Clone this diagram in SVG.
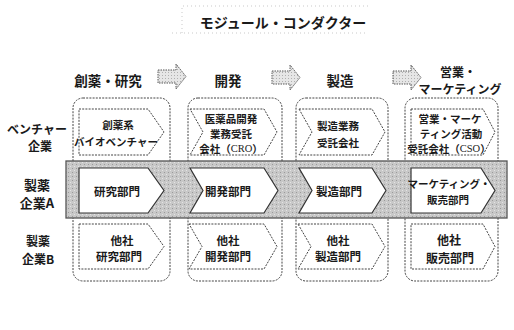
<svg xmlns="http://www.w3.org/2000/svg" width="514" height="330" viewBox="0 0 514 330">
<style>
text{font-family:"Noto Sans CJK JP","Noto Sans CJK SC",sans-serif;font-weight:bold;fill:#1a1a1a;text-anchor:middle;dominant-baseline:central}
.title{font-size:14px;font-weight:bold}
.hdr{font-size:13.5px}
.rl{font-size:13px}
.bx{font-size:10.5px}
.col{fill:#fff;stroke:#444;stroke-width:1;stroke-dasharray:2 1.2}
.chd{fill:#fff;stroke:#444;stroke-width:1;stroke-dasharray:2 1.2}
.chs{fill:#fff;stroke:#333;stroke-width:1.2}
.arr{fill:url(#dots);stroke:#555;stroke-width:1;stroke-dasharray:1.5 1}
.ser{font-family:"Liberation Serif",serif;font-weight:normal}
</style>
<defs>
<pattern id="dots" width="3" height="3" patternUnits="userSpaceOnUse">
<rect width="3" height="3" fill="#e6e6e6"/>
<rect x="0" y="0" width="1" height="1" fill="#b0b0b0"/>
</pattern>
<pattern id="grain" width="4" height="4" patternUnits="userSpaceOnUse">
<rect width="4" height="4" fill="#c8c8c8"/>
<rect x="0" y="0" width="1" height="1" fill="#9a9a9a"/>
<rect x="2" y="2" width="1" height="1" fill="#e4e4e4"/>
</pattern>
</defs>

<g id="title">
<path d="M182,33 V6 H368" fill="none" stroke="#bbb" stroke-width="0.8" stroke-dasharray="1 3"/>
<path d="M172,33 H368" fill="none" stroke="#bbb" stroke-width="0.8" stroke-dasharray="1 3"/>
<text class="title" x="283" y="22">モジュール・コンダクター</text>
</g>

<g id="headers">
<text class="hdr" x="108" y="80">創薬・研究</text>
<text class="hdr" x="228" y="80">開発</text>
<text class="hdr" x="340" y="80">製造</text>
<text class="hdr" x="458" y="71" style="font-size:12px">営業・</text>
<text class="hdr" x="460" y="88" style="font-size:12px">マーケティング</text>
</g>

<g id="connectors">
<path class="arr" d="M158,70 H176 V64 L186,76.5 L176,89 V83 H158 Z"/>
<path class="arr" d="M272,71 H290 V65 L300,77.5 L290,90 V84 H272 Z"/>
<path class="arr" d="M393,71 H411 V65 L421,77.5 L411,90 V84 H393 Z"/>
</g>

<g id="row-labels">
<text class="rl" x="37" y="128" style="font-size:12px">ベンチャー</text>
<text class="rl" x="40" y="145" style="font-size:12px">企業</text>
<text class="rl" x="37" y="184">製薬</text>
<text class="rl" x="37" y="202">企業A</text>
<text class="rl" x="38" y="240" style="font-size:12px">製薬</text>
<text class="rl" x="38" y="258" style="font-size:12px">企業B</text>
</g>

<g id="columns">
<rect class="col" x="73" y="98" width="97" height="183" rx="10"/>
<rect class="col" x="188" y="98" width="94" height="183" rx="10"/>
<rect class="col" x="296" y="98" width="92" height="183" rx="10"/>
<rect class="col" x="405" y="98" width="93" height="183" rx="10"/>
</g>

<g id="band">
<rect x="66" y="161" width="441" height="57" fill="url(#grain)" stroke="#555" stroke-width="1.3"/>
</g>

<g id="venture-1">
<path class="chd" d="M79,109 H148 L164,132 L148,155 H79 Z"/>
<text class="bx" x="118" y="124">創薬系</text>
<text class="bx" x="116" y="141">バイオベンチャー</text>
</g>
<g id="venture-2">
<path class="chd" d="M190,109 H264 L277,132 L264,155 H190 L203,132 Z"/>
<text class="bx" x="231" y="118">医薬品開発</text>
<text class="bx" x="231" y="133">業務受託</text>
<text class="bx" x="231" y="148">会社（<tspan class="ser">CRO</tspan>）</text>
</g>
<g id="venture-3">
<path class="chd" d="M299,109 H372 L385,132 L372,155 H299 L312,132 Z"/>
<text class="bx" x="338" y="125">製造業務</text>
<text class="bx" x="338" y="142">受託会社</text>
</g>
<g id="venture-4">
<path class="chd" d="M411,109 H483 L495,132 L483,155 H411 Z"/>
<text class="bx" x="450" y="118">営業・マーケ</text>
<text class="bx" x="451" y="133">ティング活動</text>
<text class="bx" x="449" y="148">受託会社（<tspan class="ser">CSO</tspan>）</text>
</g>

<g id="a-1">
<path class="chs" d="M79,168 H148 L164,190.5 L148,213 H79 Z"/>
<text class="bx" x="117" y="191" style="font-size:11.5px">研究部門</text>
</g>
<g id="a-2">
<path class="chs" d="M190,168 H264 L278,190.5 L264,213 H190 L203,190.5 Z"/>
<text class="bx" x="228" y="191" style="font-size:11.5px">開発部門</text>
</g>
<g id="a-3">
<path class="chs" d="M299,168 H372 L386,190.5 L372,213 H299 L312,190.5 Z"/>
<text class="bx" x="339" y="191" style="font-size:11.5px">製造部門</text>
</g>
<g id="a-4">
<path class="chs" d="M411,168 H481 L495,190.5 L481,213 H411 Z"/>
<text class="bx" x="449" y="183">マーケティング・</text>
<text class="bx" x="448" y="199">販売部門</text>
</g>

<g id="b-1">
<path class="chd" d="M79,224 H148 L164,246.5 L148,269 H79 Z"/>
<text class="bx" x="122" y="240" style="font-size:11.5px">他社</text>
<text class="bx" x="119" y="256" style="font-size:11.5px">研究部門</text>
</g>
<g id="b-2">
<path class="chd" d="M189,224 H264 L277,246.5 L264,269 H189 L202,246.5 Z"/>
<text class="bx" x="228" y="240" style="font-size:11.5px">他社</text>
<text class="bx" x="228" y="256" style="font-size:11.5px">開発部門</text>
</g>
<g id="b-3">
<path class="chd" d="M298,224 H372 L385,246.5 L372,269 H298 L311,246.5 Z"/>
<text class="bx" x="338" y="240" style="font-size:11.5px">他社</text>
<text class="bx" x="338" y="256" style="font-size:11.5px">製造部門</text>
</g>
<g id="b-4">
<path class="chd" d="M411,224 H483 L495,246.5 L483,269 H411 Z"/>
<text class="bx" x="449" y="239" style="font-size:12px">他社</text>
<text class="bx" x="450" y="257" style="font-size:12px">販売部門</text>
</g>
</svg>
